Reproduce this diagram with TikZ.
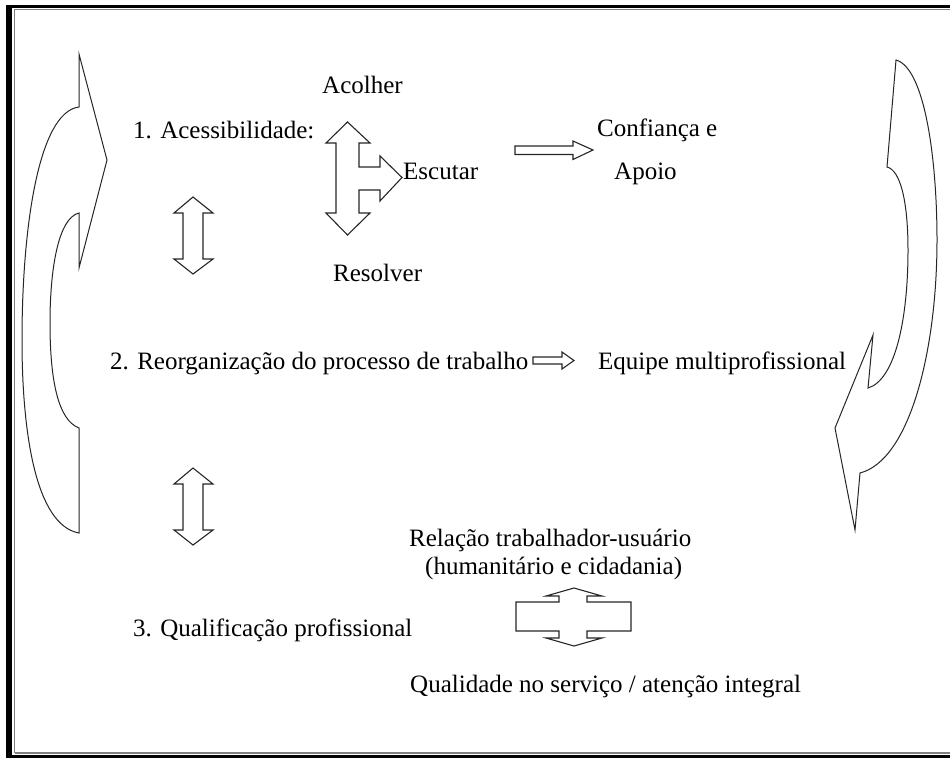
\documentclass[tikz,border=0pt]{standalone}
\usepackage{fontspec}
\setmainfont{Liberation Serif}
\begin{document}
\begin{tikzpicture}[x=1pt,y=-1pt,
  lbl/.style={anchor=base west,inner sep=0pt,font=\fontsize{25}{30}\selectfont},
  blockarrow/.style={draw=black!85,line width=1.1pt,fill=white,line join=miter},
  curlarrow/.style={draw=black!85,line width=1pt,fill=white}]
\useasboundingbox (0,0) rectangle (950,758);
% frame
\fill[black] (6,5) rectangle (12,758);
\fill[black] (6,5) rectangle (950,7.5);
\fill[black] (6,755) rectangle (950,758);
\draw[black!50,line width=1.8pt] (14.5,752.5) -- (14.5,9.5) -- (950,9.5);
\draw[black!50,line width=1.2pt] (14.5,753) -- (950,753);

% texts
\node[lbl] (acolher) at (322,93) {Acolher};
\node[lbl] (acess) at (133,138) {1. Acessibilidade:};
\node[lbl] (escutar) at (403,179) {Escutar};
\node[lbl] (confianca) at (597,136) {Confiança e};
\node[lbl] (apoio) at (614,179) {Apoio};
\node[lbl] (resolver) at (333,281) {Resolver};
\node[lbl] (reorg) at (110,369) {2. Reorganização do processo de trabalho};
\node[lbl] (equipe) at (598,369) {Equipe multiprofissional};
\node[lbl] (relacao) at (409,546) {Relação trabalhador-usuário};
\node[lbl] (human) at (425,574) {(humanitário e cidadania)};
\node[lbl] (qualif) at (133,636) {3. Qualificação profissional};
\node[lbl] (qualid) at (410,692) {Qualidade no serviço / atenção integral};

% T-shaped arrow (Acolher / Escutar / Resolver)
\draw[blockarrow] (347.5,122) -- (370,143) -- (359,143) -- (359,167) -- (380,167) -- (380,156)
  -- (402,177.5) -- (380,201) -- (380,190) -- (359,190) -- (359,213) -- (370,213)
  -- (347.5,235) -- (326,213) -- (336,213) -- (336,143) -- (326,143) -- cycle;

% arrow to Confianca
\draw[blockarrow] (515,146) -- (573,146) -- (573,141) -- (593,150) -- (573,159.5) -- (573,154.5) -- (515,154.5) -- cycle;

% arrow to Equipe
\draw[blockarrow] (533,357) -- (562,357) -- (562,352) -- (574,360.5) -- (562,369) -- (562,364) -- (533,364) -- cycle;

% vertical double arrows
\draw[blockarrow] (193,197) -- (213,213) -- (203,213) -- (203,259) -- (213,259) -- (193,274)
  -- (174,259) -- (183,259) -- (183,213) -- (174,213) -- cycle;
\draw[blockarrow] (193,468) -- (213,484) -- (203,484) -- (203,530) -- (213,530) -- (193,545)
  -- (174,530) -- (183,530) -- (183,484) -- (174,484) -- cycle;

% cross arrow
\draw[blockarrow] (516,602) -- (559,602) -- (559,596) -- (546,596) -- (574,588) -- (602,596)
  -- (587,596) -- (587,602) -- (631,602) -- (631,631) -- (587,631) -- (587,638) -- (602,638)
  -- (574,646) -- (546,638) -- (559,638) -- (559,631) -- (516,631) -- cycle;

% left curved arrow
\draw[curlarrow] (79,54) -- (107,160) -- (79,268) -- (79,213)
  .. controls (58,218) and (50,270) .. (50,323)
  .. controls (50,380) and (58,420) .. (79,428)
  -- (79,533)
  .. controls (35,525) and (22,430) .. (22,340)
  .. controls (22,230) and (38,112) .. (79,107) -- cycle;

% right curved arrow
\draw[curlarrow] (896,60)
  .. controls (925,68) and (937,160) .. (937,240)
  .. controls (937,350) and (910,460) .. (860,473)
  -- (855,530) -- (835,428) -- (873,335) -- (868,388)
  .. controls (895,380) and (908,320) .. (908,250)
  .. controls (908,200) and (900,170) .. (887,167) -- cycle;
\end{tikzpicture}
\end{document}
